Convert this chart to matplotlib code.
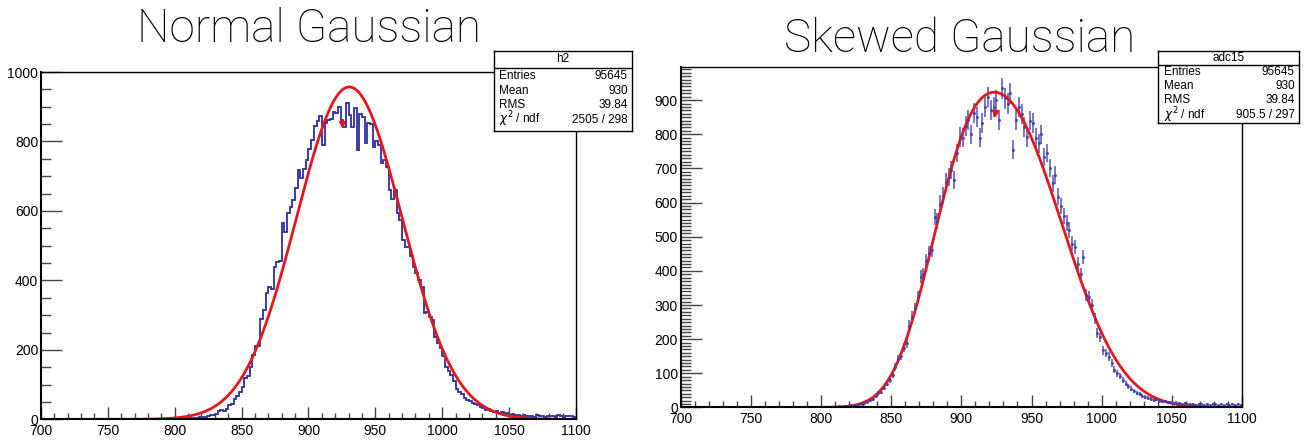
import numpy as np
import matplotlib.pyplot as plt
from matplotlib.ticker import MultipleLocator

plt.rcParams['font.family'] = ['Liberation Sans', 'DejaVu Sans']

# binning shared by both histograms
bin_w = 2
x_lo, x_hi = 700, 1100
first_filled = 800  # bins below this are empty

# h2 (normal gaussian), counts per 2-unit bin from 800 to 1098
h2_counts = [
    0, 1, 0, 2, 1, 3, 2, 4, 5, 6,                       # 800
    8, 7, 10, 12, 14, 15, 24, 27, 25, 30,               # 820
    40, 44, 60, 66, 80, 94, 120, 125, 152, 185,         # 840
    210, 212, 290, 315, 365, 382, 375, 440, 452, 455,   # 860
    565, 540, 595, 610, 632, 665, 718, 695, 720, 748,   # 880
    778, 805, 845, 860, 872, 790, 852, 862, 865, 885,   # 900
    882, 900, 862, 843, 910, 875, 843, 896, 776, 880,   # 920
    870, 795, 852, 850, 785, 800, 790, 737, 748, 728,   # 940
    660, 635, 660, 593, 575, 517, 497, 497, 470, 440,   # 960
    420, 400, 382, 305, 310, 296, 286, 238, 220, 205,   # 980
    182, 152, 140, 128, 110, 88, 80, 72, 62, 56,        # 1000
    52, 48, 45, 42, 36, 33, 28, 30, 24, 22,             # 1020
    24, 18, 20, 16, 17, 14, 15, 12, 13, 10,             # 1040
    12, 9, 11, 10, 8, 12, 9, 10, 7, 11,                 # 1060
    9, 10, 8, 12, 9, 7, 10, 9, 11, 8,                   # 1080
]

# adc15 (skewed gaussian), counts per 2-unit bin from 800 to 1098
adc15_counts = [
    0, 1, 0, 1, 2, 1, 3, 2, 4, 5,                       # 800
    6, 5, 8, 9, 10, 13, 16, 22, 25, 35,                 # 820
    41, 45, 58, 70, 80, 95, 118, 141, 150, 175,         # 840
    188, 240, 266, 290, 324, 383, 390, 430, 451, 461,   # 860
    558, 545, 597, 620, 660, 675, 695, 666, 745, 792,   # 880
    790, 825, 841, 800, 861, 850, 790, 832, 880, 909,   # 900
    870, 880, 900, 841, 934, 905, 890, 920, 755, 841,   # 920
    880, 860, 822, 792, 840, 832, 790, 773, 800, 734,   # 940
    745, 700, 656, 680, 617, 590, 560, 540, 519, 480,   # 960
    470, 420, 390, 441, 330, 324, 300, 260, 217, 205,   # 980
    168, 160, 149, 130, 110, 100, 92, 80, 70, 62,       # 1000
    55, 48, 42, 40, 34, 30, 28, 25, 22, 24,             # 1020
    20, 18, 19, 15, 16, 13, 14, 12, 11, 12,             # 1040
    10, 9, 11, 8, 10, 9, 7, 10, 8, 9,                   # 1060
    11, 6, 9, 8, 10, 7, 9, 8, 10, 7,                    # 1080
]

# gaussian fit of h2
h2_amp, h2_mean, h2_sigma = 957, 930.5, 39.5

adc15_peak_x, adc15_peak_y = 923.4, 923
adc15_fit_x = [830.7, 840.2, 847.4, 854.5, 859.2, 866.3, 879.7, 890.2, 898.5,
               951.9, 963.8, 973.3, 982.8, 992.3, 1004.2, 1030, 1050, 1070]
adc15_fit_y = [14, 33, 72, 141, 209, 307, 483, 650, 766,
               792, 666, 519, 364, 246, 149, 45, 14, 4]
fit_start = 728

# red marker drawn by ROOT near the peak
h2_marker = (925, 850)
adc15_marker = (924, 861)

stat_names = ["Entries", "Mean", "RMS", r"$\chi^{2}$ / ndf"]
h2_stats = ["95645", "930", "39.84", "2505 / 298"]
adc15_stats = ["95645", "930", "39.84", "905.5 / 297"]

hist_blue = "#2c2ea0"
point_blue = "#3c3cae"
fit_red = "#e3171c"

edges = np.arange(x_lo, x_hi + bin_w, bin_w)
n_empty = (first_filled - x_lo) // bin_w


def skewed_fit(x):
    # ln(A/y) = a*d^2 + b*|d|^3, fitted separately on each side of the peak
    fx = np.array(adc15_fit_x) - adc15_peak_x
    r = np.log(adc15_peak_y / np.array(adc15_fit_y)) / fx ** 2
    left = np.polyfit(-fx[fx < 0], r[fx < 0], 1)
    right = np.polyfit(fx[fx > 0], r[fx > 0], 1)
    d = x - adc15_peak_x
    k = np.where(d < 0, np.polyval(left, np.abs(d)), np.polyval(right, np.abs(d)))
    return adc15_peak_y * np.exp(-k * d ** 2)


def style_axes(ax, ymax, ymajor, yminor):
    ax.set_xlim(x_lo, x_hi)
    ax.set_ylim(0, ymax)
    ax.xaxis.set_major_locator(MultipleLocator(50))
    ax.xaxis.set_minor_locator(MultipleLocator(10))
    ax.yaxis.set_major_locator(MultipleLocator(ymajor))
    ax.yaxis.set_minor_locator(MultipleLocator(yminor))
    ax.tick_params(axis='y', which='major', direction='in', length=15, width=1,
                   color='#444444', labelsize=10, pad=2)
    ax.tick_params(axis='y', which='minor', direction='in', length=7, width=1, color='#444444')
    ax.tick_params(axis='x', which='major', direction='in', length=9, width=1,
                   color='#444444', labelsize=10, pad=3)
    ax.tick_params(axis='x', which='minor', direction='in', length=4, width=1, color='#444444')
    for s in ax.spines.values():
        s.set_linewidth(1.0)
    ax.spines['left'].set_linewidth(1.5)
    ax.spines['bottom'].set_linewidth(1.5)


def stats_box(fig, rect, name, values, rows_y, head_y, sep_y):
    b = fig.add_axes(rect)
    b.set_xticks([])
    b.set_yticks([])
    b.set_xlim(0, 1)
    b.set_ylim(0, 1)
    for s in b.spines.values():
        s.set_linewidth(1.0)
    b.axhline(sep_y, color='k', lw=1.0)
    b.text(0.5, head_y, name, ha='center', va='center', fontsize=8.5)
    for lab, val, y in zip(stat_names, values, rows_y):
        b.text(0.04, y, lab, ha='left', va='center', fontsize=8.5)
        b.text(0.97, y, val, ha='right', va='center', fontsize=8.5)


fig = plt.figure(figsize=(13.13, 4.41), dpi=100)

# left: normal gaussian
ax1 = fig.add_axes([0.0312, 0.049, 0.4075, 0.7877])
h2_full = np.array([0] * n_empty + h2_counts)
ax1.stairs(h2_full, edges, color=hist_blue, lw=1.3)
xf = np.linspace(fit_start, x_hi, 500)
ax1.plot(xf, h2_amp * np.exp(-0.5 * ((xf - h2_mean) / h2_sigma) ** 2), color=fit_red, lw=2)
ax1.plot(*h2_marker, marker='v', color=fit_red, ms=5)
style_axes(ax1, 1000, 200, 50)

# right: skewed gaussian
ax2 = fig.add_axes([0.5183, 0.076, 0.4277, 0.7714])
adc_full = np.array([0] * n_empty + adc15_counts, dtype=float)
centers = edges[:-1] + bin_w / 2
keep = adc_full > 0
ax2.errorbar(centers[keep], adc_full[keep], yerr=np.sqrt(adc_full[keep]), fmt='.', ms=2.5,
             color=point_blue, ecolor=point_blue, elinewidth=1.3, alpha=0.75)
ax2.plot(xf, skewed_fit(xf), color=fit_red, lw=2)
ax2.plot(*adc15_marker, marker='v', color=fit_red, ms=5)
style_axes(ax2, 996, 100, 10)

stats_box(fig, [0.3762, 0.7029, 0.1051, 0.1814], "h2", h2_stats,
          [0.6875, 0.506, 0.325, 0.144], 0.9, 0.7875)
stats_box(fig, [0.882, 0.7211, 0.1074, 0.1633], "adc15", adc15_stats,
          [0.713, 0.514, 0.319, 0.111], 0.903, 0.806)

fig.text(0.2353, 0.935, "Normal Gaussian", ha='center', va='center', fontsize=33,
         family=['Roboto', 'Liberation Sans'], fontweight='light')
fig.text(0.7312, 0.912, "Skewed Gaussian", ha='center', va='center', fontsize=33,
         family=['Roboto', 'Liberation Sans'], fontweight='light')

fig.savefig("out.png", dpi=100)
